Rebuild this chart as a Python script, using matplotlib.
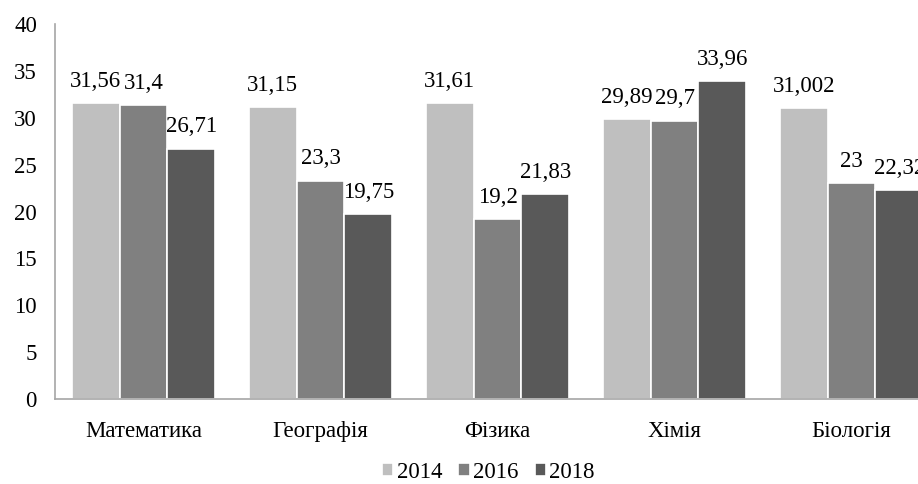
import numpy as np
import matplotlib.pyplot as plt

plt.rcParams['font.family'] = ['Liberation Serif', 'DejaVu Serif']

# Дані
subjects = ['Математика', 'Географія', 'Фізика', 'Хімія', 'Біологія']
years = ['2014', '2016', '2018']
v2014 = [31.56, 31.15, 31.61, 29.89, 31.002]
v2016 = [31.4, 23.3, 19.2, 29.7, 23]
v2018 = [26.71, 19.75, 21.83, 33.96, 22.32]
colors = ['#BFBFBF', '#808080', '#595959']

fig = plt.figure(figsize=(9.18, 4.84), dpi=100)
ax = fig.add_axes([55 / 918, 85 / 484, 885 / 918, 375 / 484])

x = np.arange(len(subjects))
w = 0.27
for i, (vals, yr, c) in enumerate(zip([v2014, v2016, v2018], years, colors)):
    pos = x + (i - 1) * w
    bars = ax.bar(pos, vals, width=w, color=c, edgecolor='white', linewidth=1.2, label=yr)
    for b, v in zip(bars, vals):
        ax.annotate(f'{v:g}'.replace('.', ','), (b.get_x() + b.get_width() / 2, v),
                    xytext=(0, 8), textcoords='offset points', ha='center', va='bottom',
                    fontsize=16.5)

ax.set_xlim(-0.5, len(subjects) - 0.5)
ax.set_ylim(0, 40)
ax.set_yticks(range(0, 41, 5))
ax.set_xticks(x)
ax.set_xticklabels(subjects)
ax.tick_params(axis='both', length=0, labelsize=16.5)
ax.tick_params(axis='y', pad=13)
ax.tick_params(axis='x', pad=16)
for s in ['top', 'right']:
    ax.spines[s].set_visible(False)
for s in ['left', 'bottom']:
    ax.spines[s].set_color('#A6A6A6')
    ax.spines[s].set_linewidth(1.2)

fig.legend(loc='lower center', bbox_to_anchor=(0.532, -0.04), ncol=3, frameon=False,
           fontsize=16.5, handlelength=0.5, handleheight=0.5, handletextpad=0.15,
           columnspacing=0.7)

fig.savefig('out.png', dpi=100)
